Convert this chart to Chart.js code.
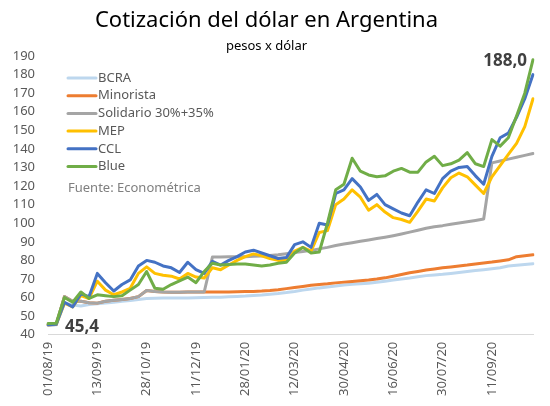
<!DOCTYPE html>
<html lang="es">
<head>
<meta charset="utf-8">
<title>Cotización del dólar en Argentina</title>
<script src="https://cdn.jsdelivr.net/npm/chart.js@4.4.1/dist/chart.umd.min.js"></script>
<style>
  html, body { margin: 0; padding: 0; background: #fff; }
  #wrap { width: 550px; height: 406px; }
</style>
</head>
<body>
<div id="wrap"><canvas id="chart" width="550" height="406"></canvas></div>
<script>
// weekly readings, Aug 2019 - Oct 2020
const categories = [
  '01/08/19', '08/08/19', '15/08/19', '22/08/19', '29/08/19', '05/09/19',
  '13/09/19', '20/09/19', '27/09/19', '04/10/19', '11/10/19', '18/10/19',
  '28/10/19', '04/11/19', '11/11/19', '19/11/19', '26/11/19', '03/12/19',
  '11/12/19', '18/12/19', '26/12/19', '03/01/20', '10/01/20', '17/01/20',
  '28/01/20', '04/02/20', '11/02/20', '18/02/20', '27/02/20', '05/03/20',
  '12/03/20', '19/03/20', '27/03/20', '06/04/20', '15/04/20', '22/04/20',
  '30/04/20', '08/05/20', '15/05/20', '22/05/20', '01/06/20', '08/06/20',
  '16/06/20', '24/06/20', '01/07/20', '08/07/20', '16/07/20', '23/07/20',
  '30/07/20', '06/08/20', '13/08/20', '21/08/20', '28/08/20', '04/09/20',
  '11/09/20', '18/09/20', '25/09/20', '02/10/20', '09/10/20', '16/10/20'
];
const tickLabels = ['01/08/19', '13/09/19', '28/10/19', '11/12/19', '28/01/20',
  '12/03/20', '30/04/20', '16/06/20', '30/07/20', '11/09/20'];

const seriesNames = ['BCRA', 'Minorista', 'Solidario 30%+35%', 'MEP', 'CCL', 'Blue'];

const bcra = [
  45.0, 45.3, 57.0, 56.0, 55.5, 56.3, 56.7, 57.0, 57.5, 58.0,
  58.4, 59.0, 59.5, 59.6, 59.7, 59.7, 59.8, 59.8, 59.9, 60.0,
  60.1, 60.2, 60.4, 60.6, 60.8, 61.1, 61.4, 61.8, 62.2, 62.7,
  63.3, 64.0, 64.6, 65.2, 65.7, 66.2, 66.8, 67.1, 67.4, 67.7,
  68.2, 68.8, 69.4, 70.0, 70.5, 71.2, 71.8, 72.2, 72.5, 73.0,
  73.5, 74.0, 74.5, 75.0, 75.5, 76.0, 77.0, 77.4, 77.8, 78.2
];
const minorista = [
  45.3, 45.5, 60.5, 58.0, 58.0, 57.2, 57.0, 58.0, 58.5, 59.0,
  59.5, 60.5, 63.8, 63.3, 63.0, 62.8, 62.8, 63.0, 63.0, 63.0,
  63.0, 63.0, 63.0, 63.1, 63.2, 63.3, 63.5, 63.8, 64.2, 64.8,
  65.4, 66.0, 66.6, 67.0, 67.4, 67.9, 68.3, 68.7, 69.1, 69.5,
  70.0, 70.6, 71.5, 72.4, 73.3, 74.0, 74.8, 75.4, 76.0, 76.5,
  77.0, 77.5, 78.1, 78.6, 79.1, 79.7, 80.3, 82.0, 82.5, 83.0
];
const solidario = [
  45.3, 45.5, 60.5, 58.0, 58.0, 57.2, 57.0, 58.0, 58.5, 59.0,
  59.5, 60.5, 63.8, 63.3, 63.0, 62.8, 62.8, 63.0, 63.0, 63.0,
  81.8, 81.8, 81.9, 82.0, 82.0, 82.2, 82.4, 82.6, 83.0, 83.6,
  84.2, 84.8, 85.4, 86.2, 87.0, 88.0, 88.8, 89.5, 90.3, 91.0,
  91.8, 92.5, 93.3, 94.2, 95.2, 96.2, 97.3, 98.1, 98.7, 99.4,
  100.1, 100.8, 101.5, 102.3, 132.5, 133.5, 134.5, 135.5, 136.5, 137.5
];
const mep = [
  45.4, 45.6, 57.0, 55.0, 61.0, 59.5, 68.8, 64.0, 61.5, 63.0,
  65.0, 73.0, 76.5, 73.0, 72.0, 71.5, 70.0, 73.0, 71.0, 70.5,
  76.0, 75.0, 77.5, 80.0, 82.0, 83.5, 82.5, 81.0, 80.0, 80.0,
  85.0, 87.0, 85.0, 95.0, 96.0, 110.0, 113.0, 118.0, 114.0, 107.0,
  110.0, 106.0, 103.0, 102.0, 100.5, 106.5, 113.0, 112.0, 119.0, 124.5,
  127.0, 125.0, 120.5, 116.0, 125.0, 131.0, 137.0, 143.0, 152.0, 167.0
];
const ccl = [
  45.4, 45.6, 57.5, 55.0, 62.0, 60.5, 73.0, 68.0, 63.5, 67.0,
  69.5, 77.0, 80.0, 79.0, 77.0, 76.0, 73.5, 79.0, 75.0, 73.0,
  79.5, 77.5, 80.0, 82.0, 84.5, 85.5, 84.0, 82.5, 81.0, 81.5,
  88.5, 90.0, 87.0, 100.0, 99.0, 116.0, 118.0, 124.0, 119.5, 112.3,
  115.5, 110.0, 107.7, 105.5, 104.0, 111.4, 118.0, 116.0, 124.0, 128.0,
  130.0, 130.5, 125.5, 121.0, 136.0, 146.0, 148.5, 157.0, 167.0, 180.0
];
const blue = [
  46.0, 46.2, 60.0, 57.5, 63.0, 59.5, 61.5, 61.0, 60.5, 61.0,
  64.0, 67.0, 74.0, 65.0, 64.5, 67.0, 69.0, 71.0, 68.0, 74.0,
  78.5, 77.5, 77.8, 78.0, 78.0, 77.5, 77.0, 77.5, 78.5, 79.0,
  84.0, 87.0, 84.0, 84.5, 100.0, 118.0, 121.0, 135.0, 128.0, 126.0,
  125.0, 125.5, 128.0, 129.5, 127.5, 127.5, 133.0, 136.0, 131.0, 132.0,
  134.0, 138.0, 132.0, 130.5, 145.0, 141.5, 146.0, 157.7, 170.0, 188.0
];

const colors = ['#BDD7EE', '#ED7D31', '#A5A5A5', '#FFC000', '#4472C4', '#70AD47'];
const FONT = '"Noto Sans", "Open Sans", sans-serif';

const fmt = (v) => v.toFixed(1).replace('.', ',');

const makeSet = (label, data, i) => ({
  label,
  data,
  borderColor: colors[i],
  backgroundColor: colors[i],
  borderWidth: 3,
  pointRadius: 0,
  tension: 0,
  borderJoinStyle: 'round',
  borderCapStyle: 'round',
  order: 5 - i // last series on top, like the original
});

// legend box drawn inside the plot, top-left
const insideLegend = {
  id: 'insideLegend',
  afterDraw(chart) {
    const ctx = chart.ctx;
    const area = chart.chartArea;
    const x0 = area.left + 20;
    const y0 = area.top + 22;
    const step = 17.7;
    ctx.save();
    ctx.font = '13px ' + FONT;
    ctx.textBaseline = 'middle';
    ctx.textAlign = 'left';
    seriesNames.forEach((name, i) => {
      const y = y0 + i * step;
      ctx.strokeStyle = colors[i];
      ctx.lineWidth = 3;
      ctx.lineCap = 'round';
      ctx.beginPath();
      ctx.moveTo(x0, y);
      ctx.lineTo(x0 + 28, y);
      ctx.stroke();
      ctx.fillStyle = '#595959';
      ctx.fillText(name, x0 + 30, y);
    });
    ctx.fillStyle = '#7f7f7f';
    ctx.fillText('Fuente: Econométrica', x0, y0 + 5 * step + 22);
    ctx.restore();
  }
};

// first CCL value and last Blue value
const endLabels = {
  id: 'endLabels',
  afterDatasetsDraw(chart) {
    const ctx = chart.ctx;
    const first = chart.getDatasetMeta(4).data[0];
    const lastIdx = blue.length - 1;
    const last = chart.getDatasetMeta(5).data[lastIdx];
    ctx.save();
    ctx.font = 'bold 17px ' + FONT;
    ctx.fillStyle = '#404040';
    ctx.textBaseline = 'middle';
    ctx.textAlign = 'left';
    ctx.fillText(fmt(ccl[0]), first.x + 17, first.y + 2);
    ctx.textAlign = 'right';
    ctx.fillText(fmt(blue[lastIdx]), last.x - 6, last.y + 1);
    ctx.restore();
  }
};

new Chart(document.getElementById('chart'), {
  type: 'line',
  data: {
    labels: categories,
    datasets: [
      makeSet(seriesNames[0], bcra, 0),
      makeSet(seriesNames[1], minorista, 1),
      makeSet(seriesNames[2], solidario, 2),
      makeSet(seriesNames[3], mep, 3),
      makeSet(seriesNames[4], ccl, 4),
      makeSet(seriesNames[5], blue, 5)
    ]
  },
  options: {
    responsive: false,
    animation: false,
    devicePixelRatio: 1,
    layout: { padding: { left: 0, right: 17, top: 2, bottom: 3 } },
    plugins: {
      legend: { display: false },
      tooltip: { enabled: false },
      title: {
        display: true,
        text: 'Cotización del dólar en Argentina',
        color: '#000',
        font: { family: FONT, size: 22, weight: 'normal' },
        padding: { top: 6, bottom: 4 }
      },
      subtitle: {
        display: true,
        text: 'pesos x dólar',
        color: '#000',
        font: { family: FONT, size: 13, weight: 'normal' },
        padding: { top: 0, bottom: 2 }
      }
    },
    scales: {
      x: {
        offset: false,
        grid: { display: false, drawTicks: false },
        border: { display: true, color: '#d9d9d9', width: 1 },
        ticks: {
          autoSkip: false,
          minRotation: 90,
          maxRotation: 90,
          padding: 7,
          color: '#595959',
          font: { family: FONT, size: 13 },
          callback: function (value, index) {
            const lab = categories[index];
            return tickLabels.includes(lab) ? lab : null;
          }
        }
      },
      y: {
        min: 40,
        max: 190,
        grid: { display: false, drawTicks: false },
        border: { display: false },
        afterFit: (scale) => { scale.width = 48; },
        ticks: {
          stepSize: 10,
          autoSkip: false,
          padding: 13,
          color: '#595959',
          font: { family: FONT, size: 13 }
        }
      }
    }
  },
  plugins: [insideLegend, endLabels]
});
</script>
</body>
</html>
